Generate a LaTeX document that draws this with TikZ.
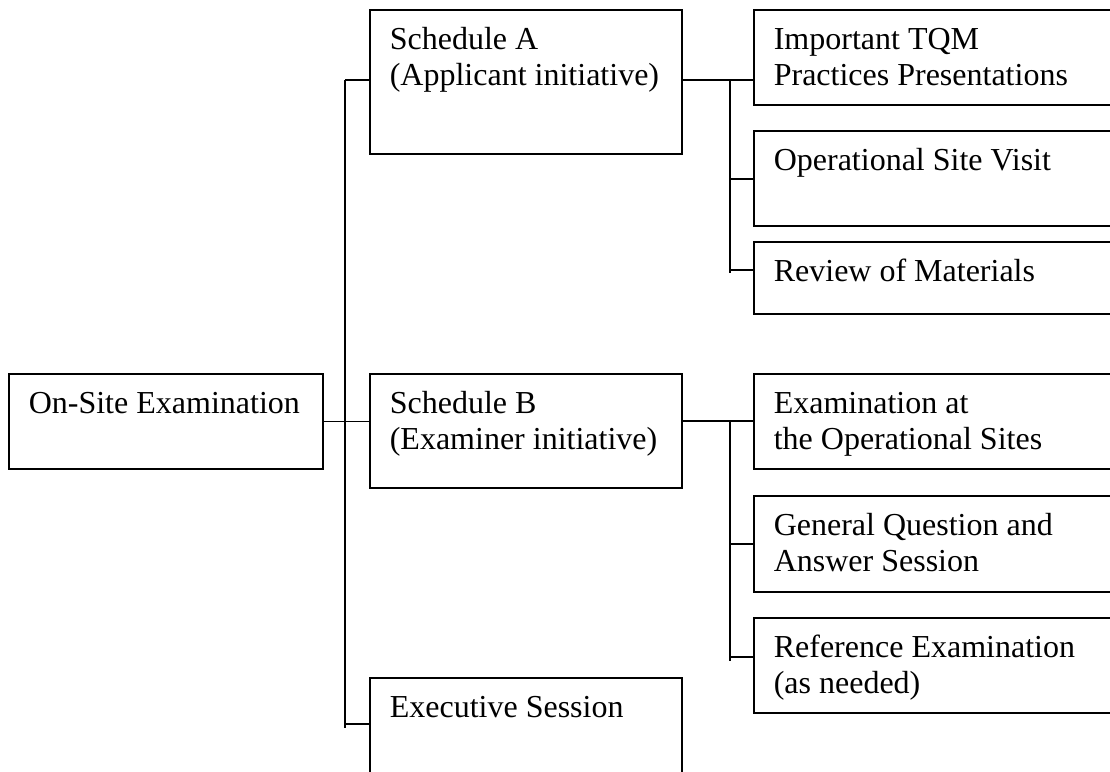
\documentclass[tikz,border=0pt]{standalone}
\usepackage{fontspec}
\setmainfont{Liberation Serif}
\usepackage{tikz}
\usetikzlibrary{calc}
\tikzstyle{block} = [rectangle, draw, line width=1.6pt, anchor=north west, inner xsep=20pt, inner ysep=0pt, font=\fontsize{32}{35.5}\selectfont]
\tikzstyle{line} = [draw, line width=1.6pt]
\newcommand{\boxtext}[3]{\parbox[t][#2][t]{#1}{\vspace*{15pt}\strut #3}}

\begin{document}
\begin{tikzpicture}[x=1pt,y=-1pt]
    \useasboundingbox (0,0) rectangle (1110,771);
    \clip (0,0) rectangle (1110,771);
    % Place nodes
    \node [block] (onsite) at (8,373) {\boxtext{274pt}{95pt}{On-Site Examination}};
    \node [block] (schedA) at (369,9) {\boxtext{272pt}{144pt}{Schedule A\\(Applicant initiative)}};
    \node [block] (schedB) at (369,373) {\boxtext{272pt}{114pt}{Schedule B\\(Examiner initiative)}};
    \node [block] (exec) at (369,677) {\boxtext{272pt}{140pt}{Executive Session}};
    \node [block] (tqm) at (753,9) {\boxtext{360pt}{95pt}{Important TQM\\Practices Presentations}};
    \node [block] (visit) at (753,130) {\boxtext{360pt}{95pt}{Operational Site Visit}};
    \node [block] (review) at (753,241) {\boxtext{360pt}{72pt}{Review of Materials}};
    \node [block] (sites) at (753,373) {\boxtext{360pt}{95pt}{Examination at\\the Operational Sites}};
    \node [block] (qa) at (753,495) {\boxtext{360pt}{96pt}{General Question and\\Answer Session}};
    \node [block] (refex) at (753,617) {\boxtext{360pt}{95pt}{Reference Examination\\(as needed)}};
    % Junctions
    \coordinate (trunkA) at (345,80);
    \coordinate (trunkE) at (345,724);
    \coordinate (trunkEnd) at (345,728);
    \coordinate (subA1) at (730,80);
    \coordinate (subA2) at (730,179);
    \coordinate (subA3) at (730,270);
    \coordinate (subAEnd) at (730,273);
    \coordinate (subB1) at (730,421);
    \coordinate (subB2) at (730,544);
    \coordinate (subB3) at (730,657);
    \coordinate (subBEnd) at (730,661);
    % Draw edges
    \path [line] (trunkA) -- (trunkEnd);
    \path [line] (trunkA) -- (trunkA -| schedA.west);
    \path [line] (onsite.east) -- (onsite.east -| schedB.west);
    \path [line] (trunkE) -- (trunkE -| exec.west);
    \path [line] (schedA.east |- subA1) -- (subA1 -| tqm.west);
    \path [line] (subA1) -- (subAEnd);
    \path [line] (subA2) -- (subA2 -| visit.west);
    \path [line] (subA3) -- (subA3 -| review.west);
    \path [line] (schedB.east |- subB1) -- (subB1 -| sites.west);
    \path [line] (subB1) -- (subBEnd);
    \path [line] (subB2) -- (subB2 -| qa.west);
    \path [line] (subB3) -- (subB3 -| refex.west);
\end{tikzpicture}
\end{document}
